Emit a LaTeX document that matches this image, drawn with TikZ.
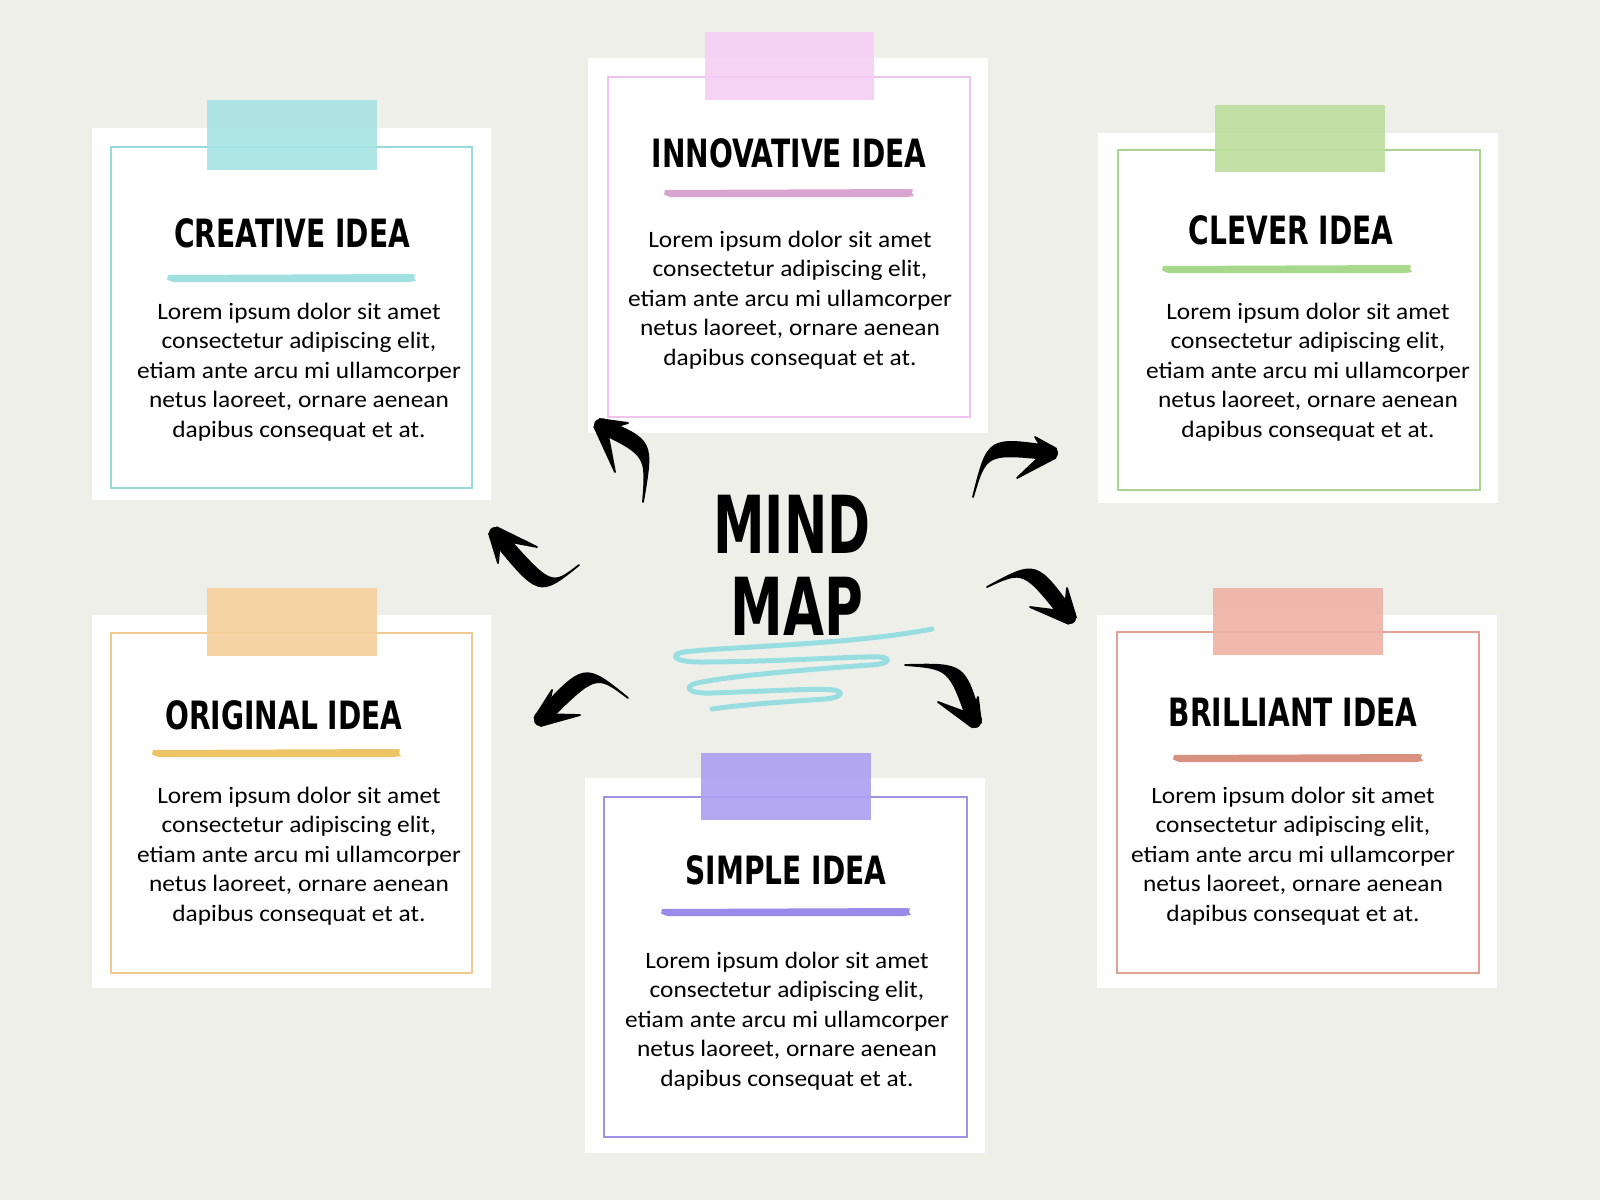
\documentclass[tikz,border=0pt]{standalone}
\usepackage{fontspec}
\setmainfont[FakeStretch=1.08]{Carlito}
\newfontfamily\titlefont[FakeStretch=0.72]{DejaVu Sans}
\usetikzlibrary{calc}

\definecolor{bgc}{HTML}{EFEFEA}
\definecolor{tealtape}{HTML}{A6E3E3}\definecolor{tealline}{HTML}{98D9DB}\definecolor{tealbrush}{HTML}{A0E0E0}
\definecolor{pinktape}{HTML}{F5CFF5}\definecolor{pinkline}{HTML}{EEC4EE}\definecolor{pinkbrush}{HTML}{D9A5D0}
\definecolor{greentape}{HTML}{BDDE9E}\definecolor{greenline}{HTML}{A9D58C}\definecolor{greenbrush}{HTML}{A7D98C}
\definecolor{orangetape}{HTML}{F5CF9C}\definecolor{orangeline}{HTML}{F2C98F}\definecolor{orangebrush}{HTML}{EDC466}
\definecolor{salmontape}{HTML}{F0B2A5}\definecolor{salmonline}{HTML}{E6A093}\definecolor{salmonbrush}{HTML}{D8907F}
\definecolor{purpletape}{HTML}{AC9FF2}\definecolor{purpleline}{HTML}{9F91E6}\definecolor{purplebrush}{HTML}{9A8BEA}
\definecolor{scrib}{HTML}{98DEE0}

\newcommand\loremtxt{Lorem ipsum dolor sit amet\\consectetur adipiscing elit,\\etiam ante arcu mi ullamcorper\\netus laoreet, ornare aenean\\dapibus consequat et at.}

\newcommand\brushstroke[4]{%
  \fill[#1] (#2,#4-3) -- (#3-4,#4-4) -- (#3,#4-3.5) -- (#3-1,#4) -- (#3+1,#4+3) -- (#3-6,#4+4) -- (#2+5,#4+4) -- (#2-1,#4+1.5) -- cycle;}

\newcommand\brusharrow[6]{%
  \coordinate (#1-tail) at (#2);
  \coordinate (#1-c) at (#3);
  \coordinate (#1-tip) at (#4);
  \coordinate (#1-b1) at (#5);
  \coordinate (#1-b2) at (#6);
  \coordinate (#1-ta) at ($(#1-tip)!6.5pt!90:(#1-c)$);
  \coordinate (#1-tb) at ($(#1-tip)!6.5pt!-90:(#1-c)$);
  \coordinate (#1-ca) at ($(#1-c)!8pt!-90:(#1-tip)$);
  \coordinate (#1-cb) at ($(#1-c)!8pt!90:(#1-tip)$);
  \filldraw[arrowbody] (#1-tail) .. controls (#1-ca) .. (#1-ta) -- (#1-tb) .. controls (#1-cb) .. (#1-tail) -- cycle;
  \coordinate (#1-b1a) at ($(#1-tip)!6pt!90:(#1-b1)$);
  \coordinate (#1-b1b) at ($(#1-tip)!6pt!-90:(#1-b1)$);
  \coordinate (#1-b2a) at ($(#1-tip)!6pt!90:(#1-b2)$);
  \coordinate (#1-b2b) at ($(#1-tip)!6pt!-90:(#1-b2)$);
  \filldraw[arrowbody] (#1-b1a) -- (#1-b1) -- (#1-b1b) -- cycle;
  \filldraw[arrowbody] (#1-b2a) -- (#1-b2) -- (#1-b2b) -- cycle;
  \fill (#1-tip) circle (6pt);
}

\tikzset{
  card/.style={fill=white},
  frame/.style={draw=#1, line width=2.2pt},
  tape/.style={fill=#1, fill opacity=0.9},
  ttl/.style={font=\titlefont\bfseries\fontsize{39}{39}\selectfont, inner sep=0pt, text=black},
  bodytxt/.style={font=\fontsize{23.5}{29.6}\selectfont, align=center, inner sep=0pt, text=black},
  arrowbody/.style={fill=black, draw=black, line width=1.8pt, line join=round},
  scribble/.style={draw=scrib, line width=5pt, line cap=round, line join=round},
  mm/.style={font=\titlefont\bfseries\fontsize{80}{80}\selectfont, inner sep=0pt, text=black}
}

\begin{document}
\begin{tikzpicture}[x=1pt,y=-1pt]
\useasboundingbox (0,0) rectangle (1600,1200);
\fill[bgc] (0,0) rectangle (1600,1200);

% ---------- Creative
\fill[card] (92,128) rectangle (491,500);
\draw[frame=tealline] (111,147) rectangle (472,488);
\fill[tape=tealtape] (207,100) rectangle (377,170);
\node[ttl] (creative) at (292,233) {CREATIVE IDEA};
\brushstroke{tealbrush}{168}{415}{278}
\node[bodytxt] (creativetxt) at (299,372) {\loremtxt};

% ---------- Innovative
\fill[card] (588,58) rectangle (988,433);
\draw[frame=pinkline] (608,77) rectangle (970,417);
\fill[tape=pinktape] (705,32) rectangle (874,100);
\node[ttl] (innovative) at (789,153) {INNOVATIVE IDEA};
\brushstroke{pinkbrush}{665}{913}{193}
\node[bodytxt] (innovativetxt) at (790,300) {\loremtxt};

% ---------- Clever
\fill[card] (1098,133) rectangle (1498,503);
\draw[frame=greenline] (1118,150) rectangle (1480,490);
\fill[tape=greentape] (1215,105) rectangle (1385,172);
\node[ttl] (clever) at (1291,230) {CLEVER IDEA};
\brushstroke{greenbrush}{1163}{1411}{269}
\node[bodytxt] (clevertxt) at (1308,372) {\loremtxt};

% ---------- Original
\fill[card] (92,615) rectangle (491,988);
\draw[frame=orangeline] (111,633) rectangle (472,973);
\fill[tape=orangetape] (207,588) rectangle (377,656);
\node[ttl] (original) at (284,715) {ORIGINAL IDEA};
\brushstroke{orangebrush}{153}{400}{753}
\node[bodytxt] (originaltxt) at (299,856) {\loremtxt};

% ---------- Brilliant
\fill[card] (1097,615) rectangle (1497,988);
\draw[frame=salmonline] (1117,632) rectangle (1479,973);
\fill[tape=salmontape] (1213,588) rectangle (1383,655);
\node[ttl] (brilliant) at (1293,712) {BRILLIANT IDEA};
\brushstroke{salmonbrush}{1174}{1422}{758}
\node[bodytxt] (brillianttxt) at (1293,856) {\loremtxt};

% ---------- Simple
\fill[card] (585,778) rectangle (985,1153);
\draw[frame=purpleline] (604,797) rectangle (967,1137);
\fill[tape=purpletape] (701,753) rectangle (871,820);
\node[ttl] (simple) at (786,870) {SIMPLE IDEA};
\brushstroke{purplebrush}{662}{910}{912}
\node[bodytxt] (simpletxt) at (787,1021) {\loremtxt};

% ---------- centre
\node[mm] (mind) at (792,524) {\scalebox{0.9}[1]{MIND}};
\node[mm] (map) at (797,606) {\scalebox{0.92}[1]{MAP}};

\draw[scribble] (932,629)
  .. controls (850,645) and (720,647) .. (684,652)
  .. controls (670,654) and (672,662) .. (700,662)
  .. controls (770,662) and (860,656) .. (880,657)
  .. controls (892,658) and (890,664) .. (870,665)
  .. controls (800,670) and (730,676) .. (697,683)
  .. controls (684,686) and (686,694) .. (712,693)
  .. controls (770,691) and (820,688) .. (834,690)
  .. controls (846,692) and (840,698) .. (825,699)
  .. controls (780,702) and (740,705) .. (712,709);

% ---------- arrows
\brusharrow{aA}{643,502}{650,448}{600,425}{628,423}{615,472}
\brusharrow{aB}{579,565}{545,592}{495,533}{537,547}{498,563}
\brusharrow{aC}{628,698}{590,668}{540,720}{552,690}{580,715}
\brusharrow{aD}{973,497}{987,445}{1052,453}{1035,437}{1017,478}
\brusharrow{aE}{987,587}{1030,565}{1070,618}{1067,588}{1030,607}
\brusharrow{aF}{905,665}{957,666}{975,722}{978,697}{938,702}
\end{tikzpicture}
\end{document}
